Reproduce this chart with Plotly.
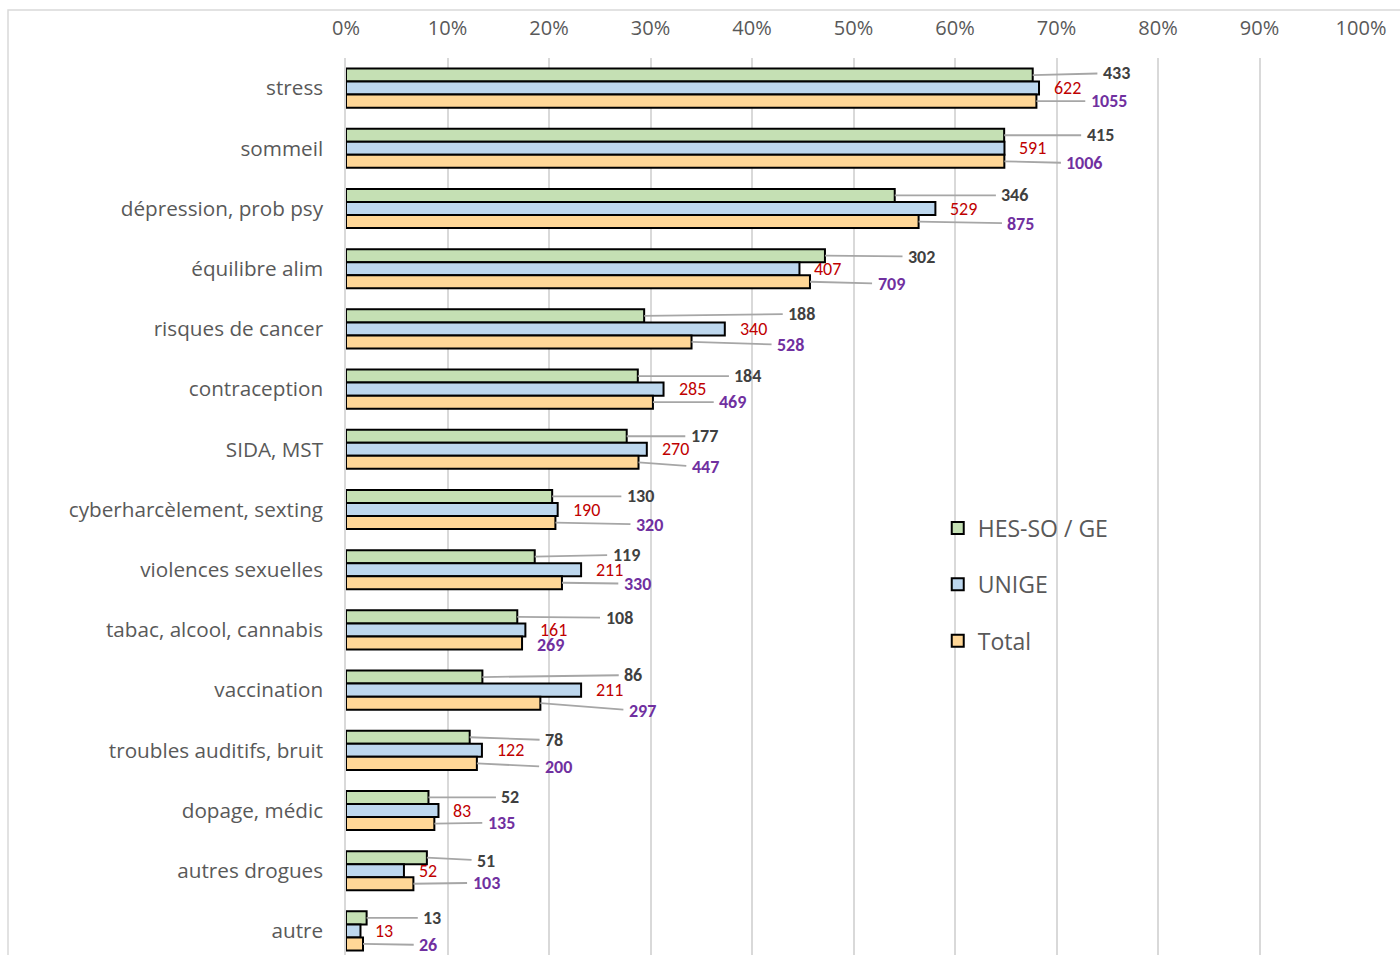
import plotly.graph_objects as go

# Topics and answer counts per group
categories = [
    "stress", "sommeil", "dépression, prob psy", "équilibre alim",
    "risques de cancer", "contraception", "SIDA, MST",
    "cyberharcèlement, sexting", "violences sexuelles",
    "tabac, alcool, cannabis", "vaccination", "troubles auditifs, bruit",
    "dopage, médic", "autres drogues", "autre",
]
hes_counts = [433, 415, 346, 302, 188, 184, 177, 130, 119, 108, 86, 78, 52, 51, 13]
unige_counts = [622, 591, 529, 407, 340, 285, 270, 190, 211, 161, 211, 122, 83, 52, 13]
total_counts = [1055, 1006, 875, 709, 528, 469, 447, 320, 330, 269, 297, 200, 135, 103, 26]

# Respondents per group (denominators of the shares)
n_hes = 640
n_unige = 911
n_total = 1551

series_names = ["HES-SO / GE", "UNIGE", "Total"]
x_ticks = [0, 10, 20, 30, 40, 50, 60, 70, 80, 90, 100]

# Hand-placed label positions (in % of the x axis) and vertical nudges (px)
hes_label_x = [75.9, 74.3, 65.9, 56.7, 44.9, 39.6, 35.3, 29.0, 27.6, 26.9, 28.3, 20.5, 16.2, 13.8, 8.5]
hes_label_dy = [-2, 0, 0, 1, -2, 0, 0, 0, -2, 1, -2, 3, 0, 3, 0]
total_label_x = [75.2, 72.8, 66.5, 53.7, 43.8, 38.1, 35.4, 29.9, 28.7, None, 29.2, 20.9, 15.3, 13.8, 8.1]
total_label_dy = [0, 2, 2, 2, 3, 0, 5, 2, 1, 2, 8, 4, -1, -1, 1]

fill_colors = ["#C5E0B4", "#BDD7EE", "#FFD797"]
label_colors = ["#404040", "#C00000", "#7030A0"]
text_gray = "#595959"
grid_gray = "#D9D9D9"
leader_gray = "#A6A6A6"

shares = [
    [c / n_hes for c in hes_counts],
    [c / n_unige for c in unige_counts],
    [c / n_total for c in total_counts],
]
counts = [hes_counts, unige_counts, total_counts]

BARGAP = 0.35
bar_w = (1 - BARGAP) / 3
idx = list(range(len(categories)))

fig = go.Figure()
for k in range(3):
    fig.add_trace(go.Bar(
        x=shares[k], y=idx, orientation="h", name=series_names[k],
        legendgroup=f"g{k}",
        marker=dict(color=fill_colors[k], line=dict(color="#000000", width=2)),
        hoverinfo="skip",
    ))

annotations = []
label_font = "Carlito, Lato, sans-serif"
for i in idx:
    for k in range(3):
        yc = i + (k - 1) * bar_w
        xv = shares[k][i]
        txt = str(counts[k][i])
        bold = k != 1
        font = dict(family=label_font, size=18, color=label_colors[k])
        shown = f"<b>{txt}</b>" if bold else txt
        pos = None
        dy = 0
        if k == 0:
            pos, dy = hes_label_x[i], hes_label_dy[i]
        elif k == 2:
            pos, dy = total_label_x[i], total_label_dy[i]
        if pos is None:
            # default outside-end placement, no leader line
            annotations.append(dict(
                x=xv, y=yc, xref="x", yref="y", text=shown, showarrow=False,
                xanchor="left", xshift=13, yshift=-dy,
                font=font,
            ))
        else:
            annotations.append(dict(
                x=xv, y=yc, xref="x", yref="y", text=shown,
                showarrow=True, arrowhead=0, arrowwidth=1.8,
                arrowcolor=leader_gray, axref="x", ax=pos / 100,
                ayref="pixel", ay=dy, borderpad=5, standoff=0,
                font=font,
            ))

fig.update_layout(
    width=1400, height=955,
    margin=dict(l=346, r=39, t=58, b=0),
    paper_bgcolor="white", plot_bgcolor="white",
    barmode="group", bargap=BARGAP, bargroupgap=0,
    font=dict(family="Open Sans, sans-serif", color=text_gray),
    annotations=annotations,
    legend=dict(
        x=0.583, y=0.5, xanchor="left", yanchor="top",
        font=dict(size=23, color=text_gray),
        tracegroupgap=23.5, traceorder="grouped",
        bgcolor="rgba(0,0,0,0)",
    ),
    shapes=[dict(
        type="rect", xref="paper", yref="paper",
        x0=-0.333, x1=1.1, y0=-0.1, y1=1.0535,
        line=dict(color=grid_gray, width=1.5), layer="below",
    )],
)

fig.update_xaxes(
    side="top", range=[0, 1],
    tickvals=[t / 100 for t in x_ticks], ticktext=[f"{t}%" for t in x_ticks],
    showgrid=True, gridcolor=grid_gray, gridwidth=1.5,
    zeroline=False, showline=False, ticks="",
    tickfont=dict(size=20, color=text_gray), ticklabelstandoff=18,
)
fig.update_yaxes(
    range=[14.4, -0.5], tickvals=idx, ticktext=categories,
    showgrid=False, zeroline=False, showline=True,
    linecolor=grid_gray, linewidth=1.5, ticks="",
    tickfont=dict(size=20.7, color=text_gray), ticklabelstandoff=17,
)

fig.write_html("out.html")
